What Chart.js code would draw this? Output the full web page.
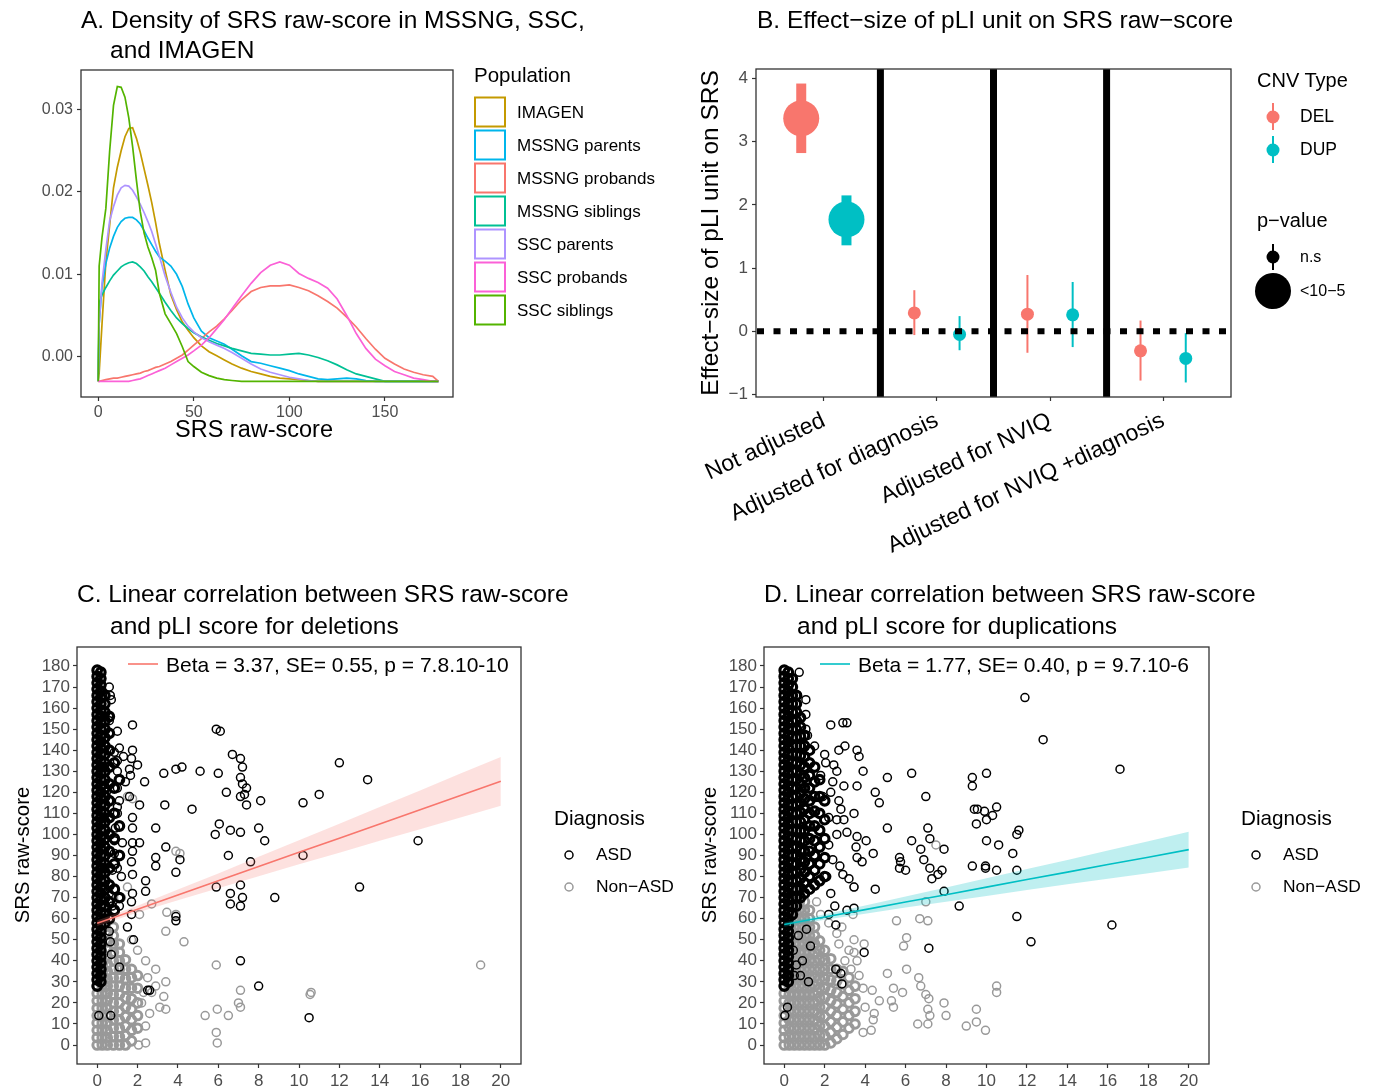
<!DOCTYPE html>
<html>
<head>
<meta charset="utf-8">
<script src="https://cdn.jsdelivr.net/npm/chart.js@4.4.1/dist/chart.umd.min.js"></script>
<style>
  body { margin: 0; background: #fff; width: 1377px; height: 1087px; position: relative; overflow: hidden;
         font-family: "Liberation Sans", Arial, sans-serif; }
  canvas { position: absolute; }
  .t { position: absolute; white-space: nowrap; line-height: 1; color: #000; transform: translateY(-50%); }
  .r { position: absolute; white-space: nowrap; line-height: 1; color: #000; transform: translate(-50%, -50%) rotate(-90deg); }
  #keys { position: absolute; left: 0; top: 0; }
</style>
</head>
<body>
<canvas id="cA" width="460" height="385" style="left:0;top:60px"></canvas>
<canvas id="cB" width="548" height="510" style="left:690px;top:60px"></canvas>
<canvas id="cC" width="530" height="447" style="left:0;top:640px"></canvas>
<canvas id="cD" width="530" height="447" style="left:690px;top:640px"></canvas>
<svg id="keys" width="1377" height="1087"></svg>

<script>
// ---------- A. density data ----------
const densX = [0, 0.5, 2, 4, 6, 8, 10, 12, 14, 16, 18, 20, 22, 24, 26, 28, 30, 32, 35, 38, 41, 44, 47, 50,
  54, 58, 62, 66, 70, 75, 80, 85, 90, 95, 100, 105, 110, 115, 120, 125, 130, 135, 140, 145, 150, 155, 160,
  165, 170, 175, 178];
const densImagen = [-0.003, -0.002, 0.004, 0.0115, 0.016, 0.0205, 0.023, 0.025, 0.0267, 0.0277, 0.0278, 0.0265,
  0.0248, 0.0228, 0.0208, 0.0187, 0.0163, 0.0137, 0.0105, 0.0075, 0.0057, 0.0042, 0.0032, 0.0023, 0.0013, 0.0006,
  0.0001, -0.0004, -0.0009, -0.0014, -0.0018, -0.0021, -0.0024, -0.0026, -0.0027, -0.0028, -0.0029, -0.003,
  -0.003, -0.003, -0.003, -0.003, -0.003, -0.003, -0.003, -0.003, -0.003, -0.003, -0.003, -0.003, -0.003];
const densMssngParents = [-0.003, 0.004, 0.0085, 0.0113, 0.0132, 0.0146, 0.0157, 0.0164, 0.0168, 0.0169, 0.0169,
  0.0166, 0.0161, 0.0153, 0.0144, 0.0136, 0.0128, 0.0121, 0.0116, 0.011, 0.01, 0.0085, 0.0064, 0.0047, 0.0031,
  0.0023, 0.0019, 0.0015, 0.0009, 0.0001, -0.0006, -0.0008, -0.0011, -0.0014, -0.0017, -0.0021, -0.0024, -0.0027,
  -0.0028, -0.0027, -0.0026, -0.0027, -0.0029, -0.003, -0.003, -0.003, -0.003, -0.003, -0.003, -0.003, -0.003];
const densMssngProbands = [-0.003, -0.003, -0.0029, -0.0028, -0.0027, -0.0026, -0.0026, -0.0025, -0.0024, -0.0023,
  -0.0022, -0.0021, -0.002, -0.0018, -0.0017, -0.0015, -0.0013, -0.0012, -0.0009, -0.0006, -0.0002, 0.0002, 0.0008,
  0.0014, 0.0022, 0.003, 0.0037, 0.0046, 0.0056, 0.0069, 0.0079, 0.0084, 0.0086, 0.0086, 0.0087, 0.0084, 0.008,
  0.0074, 0.0067, 0.0059, 0.0048, 0.0036, 0.0022, 0.0009, -0.0002, -0.0009, -0.0015, -0.0019, -0.0022, -0.0024, -0.003];
const densMssngSiblings = [-0.003, 0.0065, 0.0075, 0.0084, 0.0092, 0.0099, 0.0104, 0.0109, 0.0112, 0.0114, 0.0115,
  0.0113, 0.0109, 0.0104, 0.0097, 0.0091, 0.0084, 0.0077, 0.0066, 0.0056, 0.0047, 0.004, 0.0034, 0.0029, 0.0024,
  0.002, 0.0016, 0.0013, 0.001, 0.0007, 0.0004, 0.0003, 0.0002, 0.0002, 0.0003, 0.0004, 0.0002, -0.0001, -0.0005,
  -0.001, -0.0016, -0.0021, -0.0024, -0.0027, -0.003, -0.003, -0.003, -0.003, -0.003, -0.003, -0.003];
const densSscParents = [-0.003, 0.004, 0.009, 0.013, 0.0165, 0.0182, 0.0196, 0.0205, 0.0208, 0.0207, 0.0202,
  0.0194, 0.0185, 0.0175, 0.0164, 0.0152, 0.0137, 0.0122, 0.0098, 0.0078, 0.006, 0.0047, 0.0037, 0.003, 0.0023,
  0.0018, 0.0014, 0.001, 0.0005, -0.0002, -0.0009, -0.0015, -0.0019, -0.0022, -0.0025, -0.0027, -0.0029, -0.003,
  -0.003, -0.003, -0.003, -0.003, -0.003, -0.003, -0.003, -0.003, -0.003, -0.003, -0.003, -0.003, -0.003];
const densSscProbands = [-0.003, -0.003, -0.003, -0.003, -0.003, -0.003, -0.003, -0.003, -0.003, -0.003, -0.0029,
  -0.0028, -0.0027, -0.0025, -0.0023, -0.0021, -0.0019, -0.0017, -0.0014, -0.001, -0.0006, -0.0002, 0.0002, 0.0007,
  0.0014, 0.0023, 0.0034, 0.0045, 0.0058, 0.0074, 0.0089, 0.0102, 0.0111, 0.0115, 0.0111, 0.0101, 0.0095, 0.009,
  0.0083, 0.007, 0.005, 0.0028, 0.001, -0.0003, -0.0011, -0.0018, -0.0022, -0.0026, -0.0028, -0.003, -0.003];
const densSscSiblings = [-0.003, 0.011, 0.0145, 0.018, 0.025, 0.0305, 0.0328, 0.0327, 0.0315, 0.029, 0.0255,
  0.0214, 0.0176, 0.015, 0.0133, 0.012, 0.0105, 0.0077, 0.0052, 0.004, 0.0028, 0.0012, -0.0006, -0.0012, -0.0019,
  -0.0023, -0.0026, -0.0028, -0.0029, -0.003, -0.003, -0.003, -0.003, -0.003, -0.003, -0.003, -0.003, -0.003,
  -0.003, -0.003, -0.003, -0.003, -0.003, -0.003, -0.003, -0.003, -0.003, -0.003, -0.003, -0.003, -0.003];
const popNames = ['IMAGEN', 'MSSNG parents', 'MSSNG probands', 'MSSNG siblings', 'SSC parents', 'SSC probands', 'SSC siblings'];
const popSeries = [densImagen, densMssngParents, densMssngProbands, densMssngSiblings, densSscParents, densSscProbands, densSscSiblings];
const popColors = ['#C49A00', '#00B6EB', '#F8766D', '#00C094', '#AE94FF', '#FB61D7', '#53B400'];
const aXTicks = [0, 50, 100, 150];
const aYTicks = [0, 0.01, 0.02, 0.03];
const aYLabels = ['0.00', '0.01', '0.02', '0.03'];

// ---------- B. effect sizes ----------
const bCats = ['Not adjusted', 'Adjusted for diagnosis', 'Adjusted for NVIQ', 'Adjusted for NVIQ +diagnosis'];
const bXTicks = [1, 2, 3, 4];
const bDelEst = [3.37, 0.29, 0.27, -0.31];
const bDelLo = [2.82, -0.06, -0.34, -0.78];
const bDelHi = [3.92, 0.65, 0.89, 0.17];
const bDupEst = [1.77, -0.05, 0.26, -0.43];
const bDupLo = [1.36, -0.30, -0.25, -0.81];
const bDupHi = [2.15, 0.24, 0.78, -0.03];
const bSignif = [true, false, false, false];
const bYTicks = [-1, 0, 1, 2, 3, 4];
const bYLabels = ['\u22121', '0', '1', '2', '3', '4'];

// ---------- C/D. scatter ----------
const cXTicks = [0, 2, 4, 6, 8, 10, 12, 14, 16, 18, 20];
const cYTicks = [0, 10, 20, 30, 40, 50, 60, 70, 80, 90, 100, 110, 120, 130, 140, 150, 160, 170, 180];

// dense black band near pLI = 0 (deletions)
const delAsdCore = [
  [0, [28, 31, 34, 37, 40, 43, 46, 49, 52, 55, 58, 61, 64, 67, 70, 73, 76, 79, 82, 85, 88, 91, 94, 97, 100, 103,
       106, 109, 112, 115, 118, 121, 124, 127, 130, 133, 136, 139, 142, 145, 148, 151, 154, 157, 160, 163, 166, 169,
       172, 175, 178]],
  [0.18, [30, 33, 36, 39, 42, 45, 48, 51, 54, 57, 60, 63, 66, 69, 72, 75, 78, 81, 84, 87, 90, 93, 96, 99, 102, 105,
          108, 111, 114, 117, 120, 123, 126, 129, 132, 135, 138, 141, 144, 147, 150, 153, 156, 159, 162, 165, 168,
          171, 174, 177]],
  [0.38, [58, 62, 66, 70, 74, 78, 82, 86, 90, 94, 98, 102, 106, 110, 114, 118, 122, 126, 130, 134, 138, 142, 146,
          150, 154, 158, 162, 166]]
];
const delAsdCols = [
  [0.6, [60, 68, 76, 84, 92, 100, 108, 116, 124, 132, 140, 148, 156]],
  [0.85, [64, 74, 86, 98, 110, 122, 134]],
  [1.1, [70, 90, 104, 126]]
];
const delAsdPts = [[6.1, 149], [5.9, 150], [1.75, 152], [1.0, 149], [0.6, 154], [0.6, 170], [0.65, 166], [0.7, 164],
  [12.0, 134], [13.4, 126], [6.7, 138], [7.1, 136], [7.2, 132], [7.1, 127], [7.2, 124], [7.4, 122], [7.3, 119],
  [7.4, 114], [3.3, 129], [3.9, 131], [4.2, 132], [5.1, 130], [6.0, 129], [3.35, 114], [4.7, 112], [6.4, 120],
  [7.1, 118], [8.1, 116], [10.2, 115], [11.0, 119], [2.9, 103], [3.4, 94], [4.1, 88], [2.9, 89], [2.9, 85], [3.9, 82],
  [5.85, 100], [6.05, 105], [6.6, 102], [7.1, 101], [8.0, 103], [8.3, 97], [6.5, 90], [7.6, 87], [10.2, 90],
  [15.9, 97], [2.4, 78], [2.4, 73], [5.9, 75], [6.6, 72], [7.1, 76], [7.2, 70], [6.6, 67], [7.1, 66], [8.8, 70],
  [13.0, 75], [3.9, 59], [3.9, 61], [1.5, 56], [1.8, 50], [1.1, 37], [7.1, 40], [8.0, 28], [10.5, 13], [2.6, 26],
  [2.5, 26], [0.08, 14], [0.67, 14], [1.1, 141], [1.3, 137], [1.75, 140], [1.7, 136], [2.0, 133], [1.6, 131],
  [1.0, 130], [1.65, 128], [1.4, 125], [1.0, 122], [2.35, 125], [1.6, 118], [1.1, 116], [2.1, 114], [1.75, 108],
  [1.0, 110], [1.75, 103], [1.25, 96], [1.75, 96], [2.1, 96], [1.75, 92], [1.7, 87], [1.0, 84], [1.75, 81],
  [1.2, 80], [1.75, 72], [1.7, 68], [1.1, 66], [1.7, 62], [0.6, 54], [0.65, 49], [0.7, 43], [0.85, 139], [1.0, 135],
  [0.45, 120], [0.67, 116], [1.0, 113], [0.9, 103], [0.85, 97], [0.85, 91], [0.75, 83], [0.6, 72], [0.75, 66]];
const delNonCore = [
  [0, [0, 3.5, 7, 10.5, 14, 17.5, 21, 24.5]],
  [0.25, [0, 3.5, 7, 10.5, 14, 17.5, 21, 24.5, 28, 31.5, 35, 38.5]],
  [0.5, [0, 3.5, 7, 10.5, 14, 17.5, 21, 24.5, 28, 31.5, 35, 38.5, 42, 45.5, 49, 52.5]],
  [0.8, [0, 4, 8, 12, 16, 20, 24, 28, 32, 36, 40, 44, 48, 52, 56]],
  [1.1, [0, 4, 8, 12, 16, 20, 24, 28, 32, 36, 40, 44, 48]],
  [1.4, [0, 4.5, 9, 13.5, 18, 22.5, 27, 31.5, 36, 40.5]],
  [1.7, [2, 7, 12, 17, 22, 27, 32, 36]],
  [2.0, [8, 14, 20, 27, 33]]
];
const delNonPts = [[3.9, 92], [4.1, 91], [2.7, 67], [2.1, 62], [3.45, 63], [3.9, 62], [3.4, 54], [4.3, 49], [2.4, 40],
  [2.9, 36], [3.4, 30], [2.3, 25], [2.7, 25], [3.3, 23], [3.1, 18], [3.4, 17], [2.4, 9], [2.4, 1], [2.05, 0],
  [1.35, 0], [5.9, 38], [5.95, 17], [5.35, 14], [6.5, 14], [7.1, 26], [7.0, 20], [7.1, 18], [5.9, 6], [5.95, 1],
  [10.6, 25], [10.55, 24], [19.0, 38], [1.5, 118], [1.75, 117], [1.2, 70], [1.5, 75], [2.9, 28], [2.2, 20],
  [2.6, 15], [2.0, 45], [1.7, 50], [2.5, 32]];
const delFitX = [0, 2, 4, 6, 8, 10, 12, 14, 16, 18, 20];
const delFit = [57.8, 64.5, 71.3, 78.0, 84.8, 91.5, 98.2, 105.0, 111.7, 118.5, 125.2];
const delFitLo = [56.5, 62.9, 68.8, 74.5, 80.2, 85.8, 91.3, 97.0, 102.5, 108.1, 113.6];
const delFitHi = [59.1, 66.1, 73.8, 81.5, 89.4, 97.2, 105.1, 113.0, 120.9, 128.9, 136.8];

// dense black band near pLI = 0 (duplications)
const dupAsdCore = [
  [0, [28, 31, 34, 37, 40, 43, 46, 49, 52, 55, 58, 61, 64, 67, 70, 73, 76, 79, 82, 85, 88, 91, 94, 97, 100, 103,
       106, 109, 112, 115, 118, 121, 124, 127, 130, 133, 136, 139, 142, 145, 148, 151, 154, 157, 160, 163, 166, 169,
       172, 175, 178]],
  [0.2, [30, 33, 36, 39, 42, 45, 48, 51, 54, 57, 60, 63, 66, 69, 72, 75, 78, 81, 84, 87, 90, 93, 96, 99, 102, 105,
         108, 111, 114, 117, 120, 123, 126, 129, 132, 135, 138, 141, 144, 147, 150, 153, 156, 159, 162, 165, 168,
         171, 174, 177]],
  [0.4, [62, 66, 70, 74, 78, 82, 86, 90, 94, 98, 102, 106, 110, 114, 118, 122, 126, 130, 134, 138, 142, 146, 150,
         154, 158, 162, 166, 170, 174]],
  [0.6, [66, 70, 74, 78, 82, 86, 90, 94, 98, 102, 106, 110, 114, 118, 122, 126, 130, 134, 138, 142, 146, 150, 154,
         158, 162, 166]],
  [0.8, [70, 74.5, 79, 83.5, 88, 92.5, 97, 101.5, 106, 110.5, 115, 119.5, 124, 128.5, 133, 137.5, 142, 146.5, 151,
         155.5]],
  [1.0, [72, 77, 82, 87, 92, 97, 102, 107, 112, 117, 122, 127, 132, 137, 142, 147]],
  [1.25, [74, 80, 86, 92, 98, 104, 110, 116, 122, 128, 134, 140]],
  [1.5, [76, 83, 90, 97, 104, 111, 118, 125, 132]],
  [1.75, [78, 86, 94, 102, 110, 118, 126]],
  [2.0, [80, 89, 98, 107, 116]]
];
const dupAsdPts = [[11.9, 165], [12.8, 145], [16.6, 131], [0.74, 177], [0.66, 166], [1.07, 164], [1.07, 157],
  [2.3, 152], [2.9, 153], [3.1, 153], [1.07, 150], [1.15, 147], [1.5, 142], [2.0, 138], [2.7, 140], [3.0, 142],
  [3.6, 140], [3.7, 137], [3.9, 130], [2.6, 130], [2.45, 133], [2.05, 134], [5.1, 127], [6.3, 129], [10.0, 129],
  [9.3, 127], [9.3, 123], [7.0, 118], [4.5, 120], [4.7, 115], [3.6, 123], [2.95, 123], [2.3, 120], [2.7, 116],
  [3.45, 110], [2.95, 107], [2.6, 107], [9.4, 112], [9.55, 112], [9.9, 111], [10.5, 113], [10.0, 107], [10.3, 109],
  [9.5, 105], [5.1, 103], [7.1, 103], [7.2, 98], [11.6, 102], [11.5, 100], [3.1, 101], [3.6, 99], [4.05, 97],
  [3.55, 94], [3.6, 89], [3.85, 87], [4.4, 91], [6.3, 97], [6.75, 93], [6.9, 88], [7.9, 93], [10.0, 97], [10.6, 95],
  [11.3, 91], [5.7, 89], [5.75, 87], [5.7, 84], [6.0, 83], [7.2, 84], [7.6, 81], [7.3, 79], [7.8, 83], [9.3, 85],
  [9.95, 85], [9.95, 84], [10.5, 83], [11.5, 83], [2.75, 85], [2.9, 81], [3.2, 79], [3.45, 75], [4.5, 74], [7.9, 73],
  [8.65, 66], [11.5, 61], [16.2, 57], [12.2, 49], [7.15, 46], [3.95, 44], [2.55, 36], [2.8, 34], [2.85, 29],
  [3.45, 65], [3.1, 64], [2.55, 57], [0.03, 14], [0.16, 18], [2.2, 95], [2.4, 88], [2.1, 80], [2.3, 72], [2.5, 66],
  [2.2, 62], [2.6, 100], [2.8, 112], [2.2, 108], [1.9, 118], [2.4, 125], [1.8, 128], [0.5, 33], [0.8, 33], [1.2, 30],
  [0.45, 45], [0.7, 52], [0.9, 40], [1.1, 55], [1.3, 47], [0.6, 38]];
const dupNonCore = [
  [0, [0, 3.5, 7, 10.5, 14, 17.5, 21, 24.5]],
  [0.25, [0, 4, 8, 12, 16, 20, 24, 28, 32, 36, 40, 44, 48, 52, 56, 60]],
  [0.5, [0, 4, 8, 12, 16, 20, 24, 28, 32, 36, 40, 44, 48, 52, 56, 60, 64, 68]],
  [0.75, [0, 4, 8, 12, 16, 20, 24, 28, 32, 36, 40, 44, 48, 52, 56, 60, 64, 68, 72]],
  [1.0, [0, 4, 8, 12, 16, 20, 24, 28, 32, 36, 40, 44, 48, 52, 56, 60, 64, 68]],
  [1.25, [0, 4, 8, 12, 16, 20, 24, 28, 32, 36, 40, 44, 48, 52, 56, 60, 64]],
  [1.5, [0, 4, 8, 12, 16, 20, 24, 28, 32, 36, 40, 44, 48, 52, 56]],
  [1.75, [0, 4.5, 9, 13.5, 18, 22.5, 27, 31.5, 36, 40.5, 45, 49.5]],
  [2.0, [0, 4.5, 9, 13.5, 18, 22.5, 27, 31.5, 36, 40.5, 45]],
  [2.3, [1, 6, 11, 16, 21, 26, 31, 36, 41]],
  [2.6, [3, 8.5, 14, 19.5, 25, 30.5, 36]],
  [2.9, [5, 11, 17, 23, 29, 35]],
  [3.2, [8, 14, 20, 26, 32]],
  [3.5, [10, 16, 22, 28]]
];
const dupNonPts = [[7.5, 95], [7.0, 68], [6.7, 60], [7.1, 59], [5.55, 59], [6.05, 51], [5.9, 47], [6.05, 36],
  [6.65, 32], [6.75, 28], [7.0, 24], [7.15, 22], [7.9, 20], [7.1, 17], [7.2, 14], [8.0, 14], [6.6, 10], [7.1, 10],
  [9.5, 17], [9.5, 11], [9.95, 7], [9.0, 9], [10.5, 28], [10.5, 25], [5.1, 34], [5.4, 27], [5.85, 25], [4.7, 21],
  [5.3, 21], [5.4, 18], [4.35, 26], [4.0, 18], [4.45, 15], [4.4, 12], [4.3, 7], [3.9, 6], [3.45, 75], [3.4, 62],
  [3.45, 50], [3.95, 48], [3.45, 44], [3.6, 40], [2.6, 53], [2.85, 56], [3.2, 45], [3.0, 40], [3.7, 33], [3.9, 27],
  [3.3, 36], [2.7, 48], [2.2, 58], [1.8, 62], [1.6, 68]];
const dupFitX = [0, 2, 4, 6, 8, 10, 12, 14, 16, 18, 20];
const dupFit = [57.2, 60.8, 64.3, 67.9, 71.4, 75.0, 78.6, 82.1, 85.7, 89.2, 92.8];
const dupFitLo = [56.2, 59.5, 62.4, 65.3, 68.0, 70.8, 73.6, 76.3, 79.0, 81.6, 84.3];
const dupFitHi = [58.2, 62.1, 66.2, 70.5, 74.8, 79.2, 83.6, 87.9, 92.4, 96.8, 101.3];

const DEL_COL = '#F8766D';
const DUP_COL = '#00BFC4';

// ---------- shared bits ----------
Chart.defaults.font.family = '"Liberation Sans", Arial, sans-serif';
Chart.defaults.animation = false;
Chart.defaults.events = [];
Chart.defaults.plugins.legend.display = false;
Chart.defaults.plugins.tooltip.enabled = false;

const framePlugin = {
  id: 'frame',
  afterDraw(chart, args, opts) {
    const { ctx, chartArea: a } = chart;
    ctx.save();
    ctx.strokeStyle = opts.color || '#333';
    ctx.lineWidth = opts.width || 1.3;
    ctx.strokeRect(a.left, a.top, a.right - a.left, a.bottom - a.top);
    ctx.restore();
  }
};

function fixSize(prop, size) {
  return function (scale) {
    scale[prop] = size;
    scale.paddingLeft = 0; scale.paddingRight = 0;
    scale.paddingTop = 0; scale.paddingBottom = 0;
  };
}

function axis(min, max, tickVals, labels, fontSize, prop, size, rot, color, pad) {
  return {
    type: 'linear', min, max,
    afterBuildTicks: s => { s.ticks = tickVals.map(v => ({ value: v })); },
    afterFit: fixSize(prop, size),
    border: { display: false },
    grid: { drawOnChartArea: false, tickLength: 4, tickColor: '#333', tickWidth: 1.2 },
    ticks: {
      color: color || '#4D4D4D', font: { size: fontSize }, padding: pad === undefined ? 3 : pad, autoSkip: false,
      minRotation: rot || 0, maxRotation: rot || 0,
      callback: (v, i) => labels ? labels[i] : String(tickVals[i])
    }
  };
}

// ---------- A ----------
new Chart(document.getElementById('cA'), {
  type: 'line',
  data: {
    datasets: popNames.map((name, i) => ({
      label: name,
      data: densX.map((x, j) => ({ x, y: popSeries[i][j] })),
      borderColor: popColors[i], borderWidth: 1.7, pointRadius: 0, tension: 0,
      order: popNames.length - i
    }))
  },
  options: {
    responsive: false, devicePixelRatio: 1,
    layout: { autoPadding: false, padding: { top: 10, right: 7, left: 0, bottom: 0 } },
    scales: {
      x: axis(-9, 185.6, aXTicks, null, 16, 'height', 48, 0, null, 2),
      y: axis(-0.0049, 0.0348, aYTicks, aYLabels, 16, 'width', 81, 0, null, 4)
    },
    plugins: { frame: { color: '#333', width: 1.3 } }
  },
  plugins: [framePlugin]
});

// ---------- B ----------
const bDodge = 0.2;
const bBars = [];
bXTicks.forEach((xv, i) => {
  [[bDelLo, bDelHi, -bDodge, DEL_COL], [bDupLo, bDupHi, bDodge, DUP_COL]].forEach(([lo, hi, off, col]) => {
    bBars.push({
      type: 'line',
      data: [{ x: xv + off, y: lo[i] }, { x: xv + off, y: hi[i] }],
      borderColor: col, borderWidth: bSignif[i] ? 10 : 2, pointRadius: 0, order: 5
    });
  });
});
const bRefLines = {
  id: 'bRefLines',
  afterDatasetsDraw(chart) {
    const { ctx, chartArea: a, scales: { x, y } } = chart;
    ctx.save();
    ctx.strokeStyle = '#000';
    ctx.lineWidth = 7;
    for (let i = 0; i < bXTicks.length - 1; i++) {
      const px = x.getPixelForValue((bXTicks[i] + bXTicks[i + 1]) / 2);
      ctx.beginPath(); ctx.moveTo(px, a.top); ctx.lineTo(px, a.bottom); ctx.stroke();
    }
    ctx.lineWidth = 6;
    ctx.setLineDash([7, 9.5]);
    const py = y.getPixelForValue(0);
    ctx.beginPath(); ctx.moveTo(a.left + 1, py); ctx.lineTo(a.right, py); ctx.stroke();
    ctx.restore();
  }
};
new Chart(document.getElementById('cB'), {
  type: 'scatter',
  data: {
    datasets: [
      {
        data: bXTicks.map((xv, i) => ({ x: xv - bDodge, y: bDelEst[i] })),
        backgroundColor: DEL_COL, borderWidth: 0,
        pointRadius: bSignif.map(s => s ? 18 : 6.5), order: 1
      },
      {
        data: bXTicks.map((xv, i) => ({ x: xv + bDodge, y: bDupEst[i] })),
        backgroundColor: DUP_COL, borderWidth: 0,
        pointRadius: bSignif.map(s => s ? 18 : 6.5), order: 1
      }
    ].concat(bBars)
  },
  options: {
    responsive: false, devicePixelRatio: 1,
    layout: { autoPadding: false, padding: { top: 9, right: 7, left: 0, bottom: 0 } },
    scales: {
      x: axis(0.4, 4.6, bXTicks, bCats, 23, 'height', 173, 25, '#000', 6),
      y: axis(-1.04, 4.15, bYTicks, bYLabels, 17, 'width', 66, 0, null, 4)
    },
    plugins: { frame: { color: '#333', width: 1.3 } }
  },
  plugins: [bRefLines, framePlugin]
});

// ---------- C & D ----------
function colsToPts(cols) { return cols.flatMap(([x, ys]) => ys.map(y => ({ x, y }))); }
function pairsToPts(pairs) { return pairs.map(([x, y]) => ({ x, y })); }

function scatterPanel(id, asdCore, asdPts, nonCore, nonPts, fitX, fit, lo, hi, col, band, pad, yWidth) {
  new Chart(document.getElementById(id), {
    type: 'scatter',
    data: {
      datasets: [
        { type: 'line', data: fitX.map((x, i) => ({ x, y: fit[i] })), borderColor: col, borderWidth: 1.6,
          pointRadius: 0, fill: false, order: 0 },
        { type: 'line', data: fitX.map((x, i) => ({ x, y: hi[i] })), borderWidth: 0, pointRadius: 0,
          backgroundColor: band, fill: '+1', order: 1 },
        { type: 'line', data: fitX.map((x, i) => ({ x, y: lo[i] })), borderWidth: 0, pointRadius: 0,
          fill: false, order: 1 },
        { data: pairsToPts(asdPts), borderColor: '#000', backgroundColor: 'rgba(0,0,0,0)',
          pointRadius: 4, pointBorderWidth: 1.5, order: 2 },
        { data: colsToPts(asdCore), borderColor: '#000', backgroundColor: 'rgba(0,0,0,0)',
          pointRadius: 4.3, pointBorderWidth: 3.2, order: 2 },
        { data: pairsToPts(nonPts), borderColor: '#999', backgroundColor: 'rgba(0,0,0,0)',
          pointRadius: 4, pointBorderWidth: 1.5, order: 3 },
        { data: colsToPts(nonCore), borderColor: '#999', backgroundColor: 'rgba(0,0,0,0)',
          pointRadius: 4.3, pointBorderWidth: 3, order: 3 }
      ]
    },
    options: {
      responsive: false, devicePixelRatio: 1,
      layout: { autoPadding: false, padding: { top: 7, right: pad, left: 0, bottom: 0 } },
      scales: {
        x: axis(-1, 21, cXTicks, null, 17, 'height', 23),
        y: axis(-9, 189, cYTicks, null, 17, 'width', yWidth)
      },
      plugins: { frame: { color: '#333', width: 1.3 } }
    },
    plugins: [framePlugin]
  });
}
scatterPanel('cC', delAsdCore.concat(delAsdCols), delAsdPts, delNonCore, delNonPts, delFitX, delFit, delFitLo,
  delFitHi, DEL_COL, 'rgba(248,118,109,0.22)', 9, 77);
scatterPanel('cD', dupAsdCore, dupAsdPts, dupNonCore, dupNonPts, dupFitX, dupFit, dupFitLo, dupFitHi,
  DUP_COL, 'rgba(0,191,196,0.25)', 11, 74);

// ---------- text ----------
function txt(s, x, y, size, cls) {
  const d = document.createElement('div');
  d.className = cls || 't';
  d.textContent = s;
  d.style.left = x + 'px';
  d.style.top = y + 'px';
  d.style.fontSize = size + 'px';
  document.body.appendChild(d);
  return d;
}
txt('A. Density of SRS raw-score in MSSNG, SSC,', 81, 20, 24.5);
txt('and IMAGEN', 110, 50, 24.5);
txt('B. Effect\u2212size of pLI unit on SRS raw\u2212score', 757, 20, 24.5);
txt('C. Linear correlation between SRS raw-score', 77, 594, 24.5);
txt('and pLI score for deletions', 110, 626, 24.5);
txt('D. Linear correlation between SRS raw-score', 764, 594, 24.5);
txt('and pLI score for duplications', 797, 626, 24.5);
txt('SRS raw-score', 254, 430, 23.5, 'r').style.transform = 'translate(-50%,-50%)';
txt('Effect\u2212size of pLI unit on SRS', 710, 233, 24.5, 'r');
txt('SRS raw-score', 22, 855, 20.3, 'r');
txt('SRS raw-score', 709, 855, 20.3, 'r');

// legends
const svg = document.getElementById('keys');
const NS = 'http://www.w3.org/2000/svg';
function shape(tag, attrs) {
  const e = document.createElementNS(NS, tag);
  for (const k in attrs) e.setAttribute(k, attrs[k]);
  svg.appendChild(e);
}
txt('Population', 474, 75, 20.5);
popNames.forEach((name, i) => {
  const cy = 112 + i * 33;
  shape('rect', { x: 475, y: cy - 14.5, width: 30, height: 29, fill: '#fff', stroke: popColors[i], 'stroke-width': 2 });
  txt(name, 517, cy, 17);
});

txt('CNV Type', 1257, 80, 20);
[['DEL', DEL_COL, 117], ['DUP', DUP_COL, 150]].forEach(([n, c, cy]) => {
  shape('line', { x1: 1273, x2: 1273, y1: cy - 14, y2: cy + 13, stroke: c, 'stroke-width': 2 });
  shape('circle', { cx: 1273, cy, r: 6.5, fill: c });
  txt(n, 1300, cy, 17.5);
});
txt('p\u2212value', 1257, 220, 20);
shape('line', { x1: 1273, x2: 1273, y1: 244, y2: 270, stroke: '#000', 'stroke-width': 2 });
shape('circle', { cx: 1273, cy: 257, r: 6.5, fill: '#000' });
txt('n.s', 1300, 257, 16);
shape('circle', { cx: 1273, cy: 291, r: 18, fill: '#000' });
txt('<10\u22125', 1300, 291, 16);

[[128, 166, DEL_COL, 'Beta = 3.37, SE= 0.55, p = 7.8.10-10', 554],
 [820, 858, DUP_COL, 'Beta = 1.77, SE= 0.40, p = 9.7.10-6', 1241]].forEach(([lx, tx, c, s, gx]) => {
  shape('line', { x1: lx, x2: lx + 30, y1: 664, y2: 664, stroke: c, 'stroke-width': 1.6 });
  txt(s, tx, 664, 21);
  txt('Diagnosis', gx, 818, 20.7);
  shape('circle', { cx: gx + 15, cy: 855, r: 4, fill: 'none', stroke: '#000', 'stroke-width': 1.5 });
  txt('ASD', gx + 42, 855, 17.4);
  shape('circle', { cx: gx + 15, cy: 887, r: 4, fill: 'none', stroke: '#999', 'stroke-width': 1.5 });
  txt('Non\u2212ASD', gx + 42, 887, 17.4);
});
</script>
</body>
</html>
